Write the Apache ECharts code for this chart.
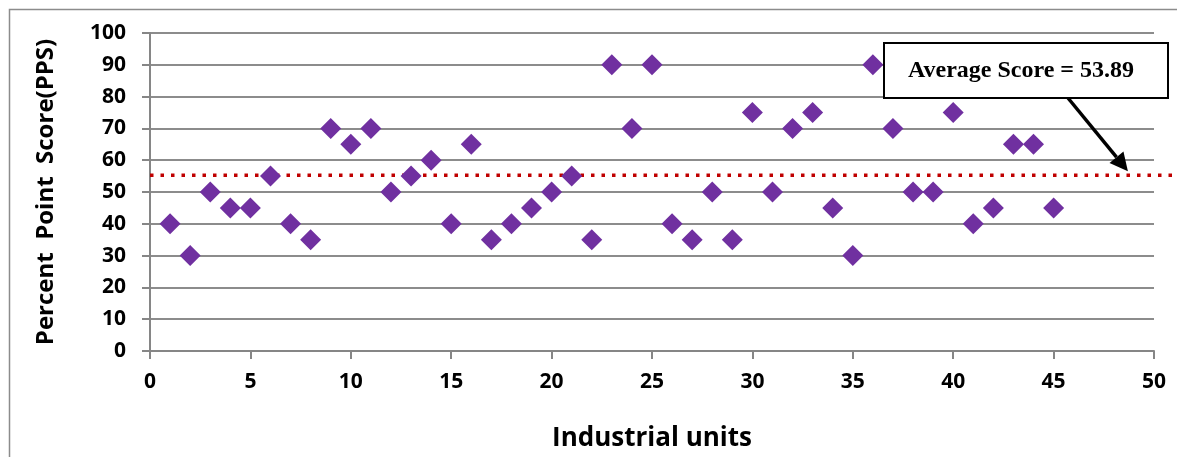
<!DOCTYPE html>
<html>
<head>
<meta charset="utf-8">
<script src="https://cdn.jsdelivr.net/npm/echarts@6/dist/echarts.min.js"></script>
<style>
html,body{margin:0;padding:0;background:#fff;}
#chart{width:1177px;height:457px;}
</style>
</head>
<body>
<div id="chart"></div>
<script>
const units = [1,2,3,4,5,6,7,8,9,10,11,12,13,14,15,16,17,18,19,20,21,22,23,24,25,26,27,28,29,30,31,32,33,34,35,36,37,38,39,40,41,42,43,44,45];
const scores = [40,30,50,45,45,55,40,35,70,65,70,50,55,60,40,65,35,40,45,50,55,35,90,70,90,40,35,50,35,75,50,70,75,45,30,90,70,50,50,75,40,45,65,65,45];
const averageLineLevel = 55.3;
const averageLabel = 'Average Score = 53.89';
const arrowTipX = 48.7;
const xTicks = [0,5,10,15,20,25,30,35,40,45,50];
const yTicks = [0,10,20,30,40,50,60,70,80,90,100];

const chart = echarts.init(document.getElementById('chart'));
const labelFont = {fontFamily:'"Open Sans"', fontWeight:'bold', color:'#000'};
chart.setOption({
  animation:false,
  backgroundColor:'#fff',
  grid:{left:150, right:23, top:33, bottom:106, containLabel:false},
  xAxis:{
    type:'value', min:xTicks[0], max:xTicks[xTicks.length-1], interval:5,
    name:'Industrial units', nameLocation:'middle', nameGap:75,
    nameTextStyle:Object.assign({fontSize:26}, labelFont),
    axisLine:{show:true, lineStyle:{color:'#868686', width:2}},
    axisTick:{show:true, length:8, inside:false, lineStyle:{color:'#868686', width:2}},
    axisLabel:Object.assign({fontSize:21, margin:21}, labelFont),
    splitLine:{show:false}
  },
  yAxis:{
    type:'value', min:yTicks[0], max:yTicks[yTicks.length-1], interval:10,
    name:'Percent  Point  Score(PPS)', nameLocation:'middle', nameGap:92,
    nameTextStyle:Object.assign({fontSize:24}, labelFont),
    axisLine:{show:true, lineStyle:{color:'#868686', width:2}},
    axisTick:{show:true, length:8, lineStyle:{color:'#868686', width:2}},
    axisLabel:Object.assign({fontSize:21, margin:24}, labelFont),
    splitLine:{show:true, lineStyle:{color:'#8c8c8c', width:2}}
  },
  series:[
    {
      type:'scatter', symbol:'diamond', symbolSize:[21,21],
      itemStyle:{color:'#7030A0', opacity:1},
      data:units.map((u,i)=>[u, scores[i]]), z:3
    }
  ]
});

function drawAnnotation(){
  const left = chart.convertToPixel({gridIndex:0}, [0, averageLineLevel]);
  const tip = chart.convertToPixel({gridIndex:0}, [arrowTipX, averageLineLevel]);
  const tail = [1068, 98];
  const end = [tip[0], tip[1]-4];
  const dx = end[0]-tail[0], dy = end[1]-tail[1];
  const len = Math.sqrt(dx*dx+dy*dy);
  const ux = dx/len, uy = dy/len;
  const headLen = 18, headW = 9;
  const base = [end[0]-ux*headLen, end[1]-uy*headLen];
  chart.setOption({graphic:[
    {type:'rect', shape:{x:9.5, y:9.5, width:1200, height:500}, style:{fill:'none', stroke:'#8c8c8c', lineWidth:1.5}, z:-1, silent:true},
    {type:'line', shape:{x1:left[0], y1:left[1], x2:1177, y2:left[1]}, style:{stroke:'#C00000', lineWidth:3.5, lineDash:[3.5,7]}, z:1, silent:true},
    {type:'line', shape:{x1:tail[0], y1:tail[1], x2:base[0], y2:base[1]}, style:{stroke:'#000', lineWidth:3.5}, z:10},
    {type:'polygon', shape:{points:[end, [base[0]-uy*headW, base[1]+ux*headW], [base[0]+uy*headW, base[1]-ux*headW]]}, style:{fill:'#000'}, z:10},
    {type:'rect', shape:{x:884, y:43, width:284, height:55}, style:{fill:'#fff', stroke:'#000', lineWidth:2}, z:11},
    {type:'text', x:1021, y:71, style:{text:averageLabel, font:'bold 24px "Liberation Serif"', fill:'#000', align:'center', verticalAlign:'middle'}, z:12}
  ]});
}
drawAnnotation();
</script>
</body>
</html>
